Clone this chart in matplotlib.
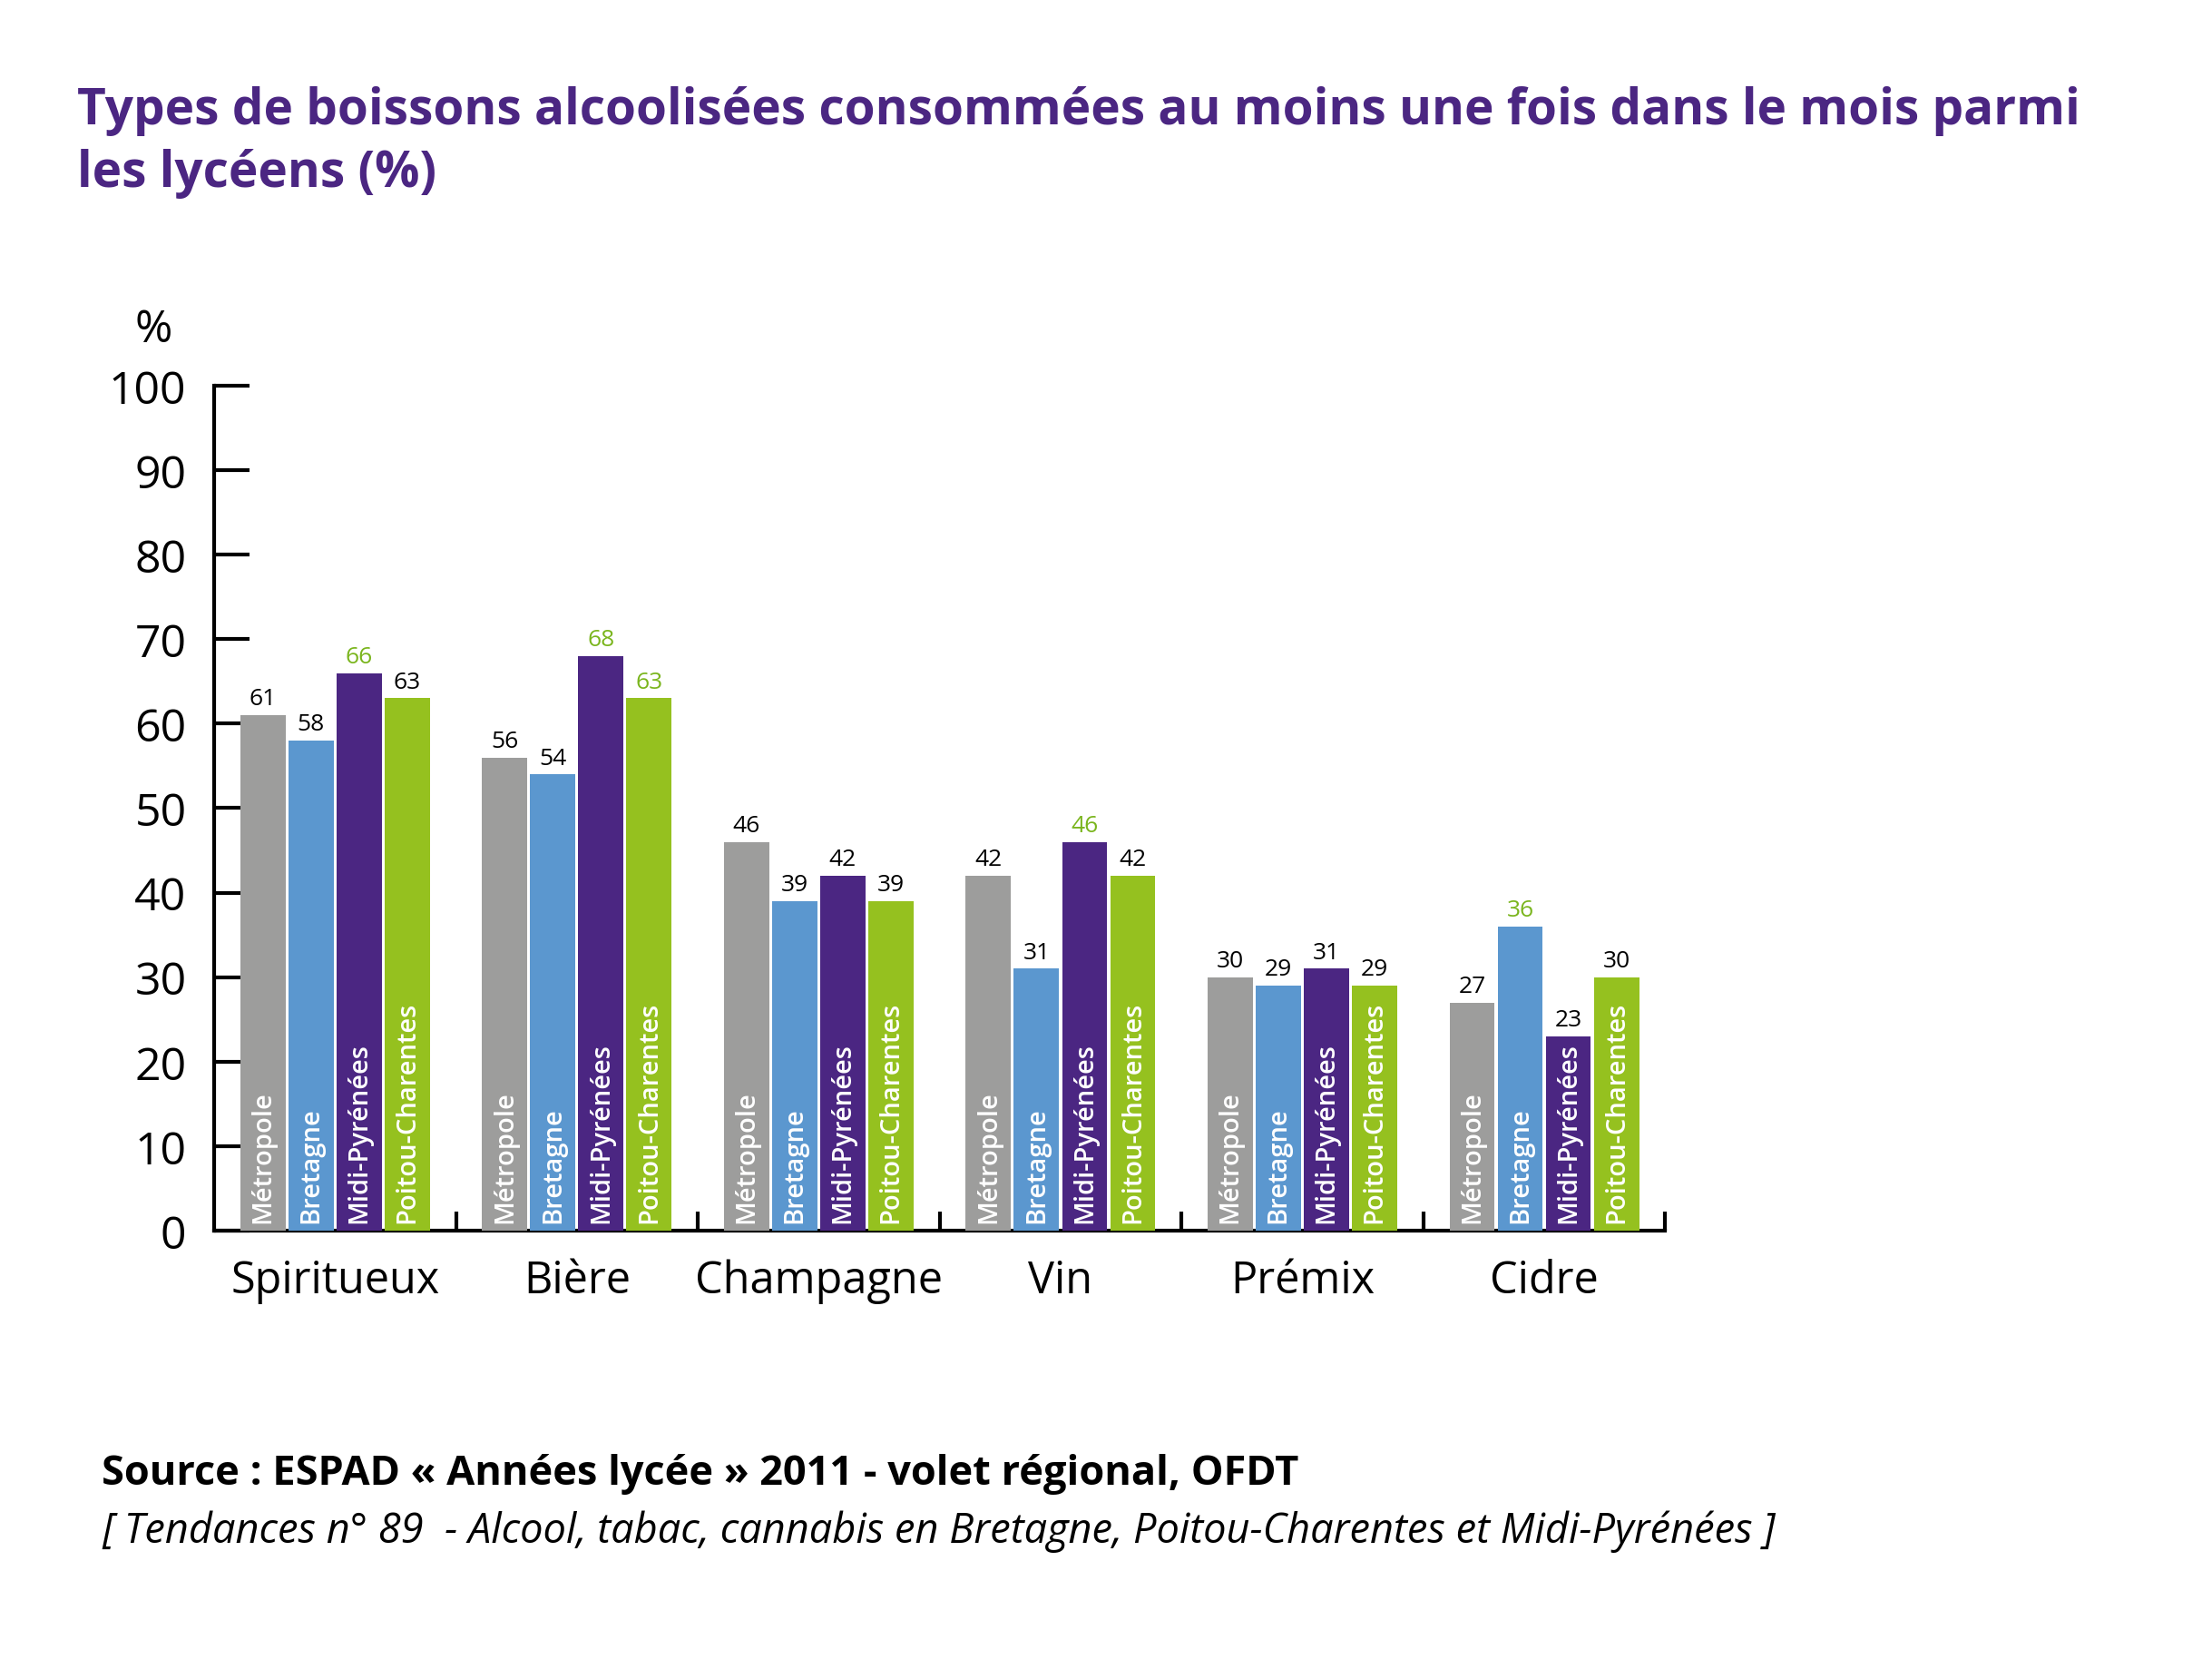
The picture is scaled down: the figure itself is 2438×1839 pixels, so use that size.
import matplotlib
matplotlib.use('Agg')
import matplotlib.pyplot as plt
import numpy as np

plt.rcParams['font.family'] = ['Open Sans', 'DejaVu Sans']

# données
categories = ['Spiritueux', 'Bière', 'Champagne', 'Vin', 'Prémix', 'Cidre']
regions = ['Métropole', 'Bretagne', 'Midi-Pyrénées', 'Poitou-Charentes']
metropole = [61, 56, 46, 42, 30, 27]
bretagne = [58, 54, 39, 31, 29, 36]
midi_pyrenees = [66, 68, 42, 46, 31, 23]
poitou_charentes = [63, 63, 39, 42, 29, 30]
# valeurs affichées en vert (différence significative)
significatif = [
    [False, False, False, False, False, False],
    [False, False, False, False, False, True],
    [True, True, False, True, False, False],
    [False, True, False, False, False, False],
]
yticks = [0, 10, 20, 30, 40, 50, 60, 70, 80, 90, 100]

couleurs = ['#9d9d9c', '#5b97cf', '#4b2682', '#95c11f']
violet = '#4b2682'
vert = '#7ab51d'

series = [metropole, bretagne, midi_pyrenees, poitou_charentes]

fig = plt.figure(figsize=(24.38, 18.40), dpi=100)
ax = fig.add_axes([0.0968, 0.2625, 0.656, 0.506])

x = np.arange(len(categories))
largeur = 0.187
pas = 0.199
for i, (vals, coul) in enumerate(zip(series, couleurs)):
    pos = x + (i - 1.5) * pas
    ax.bar(pos, vals, width=largeur, color=coul, zorder=3)
    for j, v in enumerate(vals):
        ax.text(pos[j], v + 0.6, str(v), ha='center', va='bottom', fontsize=19,
                color=vert if significatif[i][j] else 'black', zorder=4)
        ax.text(pos[j], 1.0, regions[i], rotation=90, ha='center', va='bottom',
                fontsize=21, color='white', fontweight='semibold', zorder=4)

ax.set_xlim(-0.5, 5.5)
ax.set_ylim(0, 100)
ax.set_yticks(yticks)
ax.set_yticklabels([str(t) for t in yticks], fontsize=36)
ax.tick_params(axis='y', direction='in', length=28, width=3, pad=22)
ax.set_xticks(x)
ax.set_xticklabels(categories, fontsize=35)
ax.tick_params(axis='x', which='major', length=0, pad=22)
ax.set_xticks(x + 0.5, minor=True)
ax.tick_params(axis='x', which='minor', direction='in', length=15, width=3)
ax.set_axisbelow(True)

for s in ['top', 'right']:
    ax.spines[s].set_visible(False)
for s in ['left', 'bottom']:
    ax.spines[s].set_linewidth(3)

fig.text(0.061, 0.802, '%', fontsize=36, ha='left', va='center')

fig.text(0.035, 0.9145, 'Types de boissons alcoolisées consommées au moins une fois dans le mois parmi\nles lycéens (%)',
         fontsize=39.5, fontweight='bold', color=violet, ha='left', va='center', linespacing=1.33)

fig.text(0.046, 0.117, 'Source : ESPAD « Années lycée » 2011 - volet régional, OFDT',
         fontsize=32.5, fontweight='bold', ha='left', va='center')
fig.text(0.046, 0.083, '[ Tendances n° 89  - Alcool, tabac, cannabis en Bretagne, Poitou-Charentes et Midi-Pyrénées ]',
         fontsize=32.5, fontstyle='italic', ha='left', va='center')

fig.savefig('out.png', dpi=100)
